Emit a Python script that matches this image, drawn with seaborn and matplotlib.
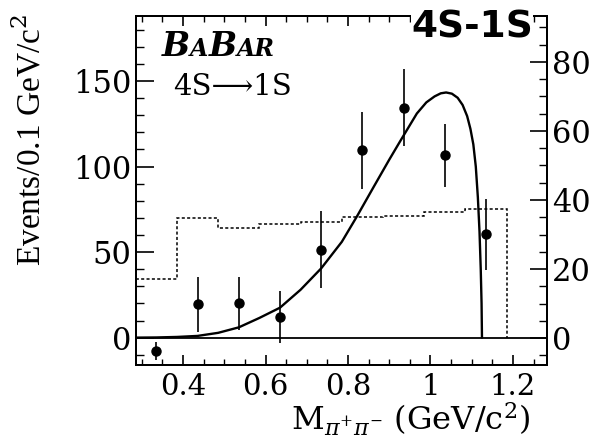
# babar_4s_1s.py - M(pi+pi-) spectrum, 4S -> 1S
import numpy as np
import matplotlib
matplotlib.use("Agg")
import matplotlib.pyplot as plt
import seaborn as sns
from matplotlib.ticker import MultipleLocator
from matplotlib.offsetbox import TextArea, HPacker, AnchoredOffsetbox

# data
bin_edges = [0.285, 0.385, 0.485, 0.585, 0.685, 0.785, 0.885, 0.985, 1.085, 1.185]
point_x = [0.335, 0.435, 0.535, 0.635, 0.735, 0.835, 0.935, 1.035, 1.135]
point_y = [-7.8, 19.5, 20.0, 12.1, 51.5, 109.5, 134.5, 106.5, 60.4]
point_err = [5.4, 16.1, 15.4, 15.4, 22.7, 22.5, 22.5, 18.5, 20.6]
# dotted histogram, right-hand scale
hist_counts = [17.0, 34.9, 31.8, 33.0, 33.7, 35.2, 35.5, 36.4, 37.3]
# fit curve
curve_x = [0.285, 0.335, 0.385, 0.435, 0.485, 0.535, 0.585, 0.635, 0.685, 0.735,
           0.785, 0.822, 0.862, 0.900, 0.927, 0.967, 0.990, 1.010, 1.025, 1.038,
           1.052, 1.066, 1.078, 1.089, 1.097, 1.104, 1.110, 1.115, 1.119, 1.122,
           1.124, 1.125]
curve_y = [0, 0.1, 0.4, 1.0, 2.8, 6.0, 11.5, 17.5, 28, 40.5,
           56, 71, 88, 104, 115, 131, 137.5, 141, 142.8, 143.3,
           142.6, 140.2, 136, 129.5, 122, 113, 100, 82, 62, 40,
           20, 0]

sns.set_theme(style="ticks")
plt.rcParams['font.family'] = ['DejaVu Serif']
plt.rcParams['mathtext.fontset'] = 'dejavuserif'
plt.rcParams['axes.linewidth'] = 1.4
for key in ['text.color', 'axes.labelcolor', 'axes.edgecolor', 'xtick.color', 'ytick.color']:
    plt.rcParams[key] = 'black'

W, H = 613, 437
fig = plt.figure(figsize=(W / 100, H / 100), dpi=100)
ax = fig.add_axes([135.7 / W, (H - 365) / H, 411 / W, 349 / H])
ax2 = ax.twinx()

# fit line
sns.lineplot(x=curve_x, y=curve_y, ax=ax, color="black", linewidth=1.7, sort=False)
# data points
ax.errorbar(point_x, point_y, yerr=point_err, fmt="o", color="black",
            markersize=6.5, elinewidth=1.2, capsize=0)
ax.axhline(0, color="black", linewidth=1.3)

# background histogram (right scale)
ax2.stairs(hist_counts, bin_edges, baseline=0, color="black",
           linewidth=1.1, linestyle=(0, (2, 1.5)))

ax.set_xlim(0.285, 1.282)
ax.set_ylim(-16, 188)
ax2.set_ylim(-7.8, 93.3)

ax.xaxis.set_major_locator(MultipleLocator(0.2))
ax.xaxis.set_minor_locator(MultipleLocator(0.05))
ax.yaxis.set_major_locator(MultipleLocator(50))
ax.yaxis.set_minor_locator(MultipleLocator(10))
ax2.yaxis.set_major_locator(MultipleLocator(20))
ax2.yaxis.set_minor_locator(MultipleLocator(5))
ax.set_xticks([0.4, 0.6, 0.8, 1.0, 1.2])
ax.set_xticklabels(["0.4", "0.6", "0.8", "1", "1.2"])

ax.tick_params(axis="x", which="both", direction="in", top=True, labelsize=21, pad=6)
ax.tick_params(axis="x", which="major", length=7, width=1.2)
ax.tick_params(axis="x", which="minor", length=4, width=1.0)
ax.tick_params(axis="y", which="both", direction="in", right=False, labelsize=22, pad=3)
ax.tick_params(axis="y", which="major", length=13, width=1.2)
ax.tick_params(axis="y", which="minor", length=6, width=1.0)
ax2.tick_params(axis="y", which="both", direction="in", labelsize=22, pad=4)
ax2.tick_params(axis="y", which="major", length=12, width=1.2)
ax2.tick_params(axis="y", which="minor", length=6, width=1.0)
ax.set_xlabel("")
ax.set_ylabel("")

# labels
fig.text(30 / W, 1 - 140 / H, "Events/0.1 GeV/c$^2$", rotation=90,
         ha="center", va="center", fontsize=24, family="Liberation Serif")
fig.text(411 / W, 1 - 431 / H, r"M$_{\pi^{+}\pi^{-}}$ (GeV/c$^{2}$)",
         ha="center", va="baseline", fontsize=23)

# BaBar logo in small caps
big = dict(size=24, weight="bold", style="italic", family="DejaVu Serif")
small = dict(size=17, weight="bold", style="italic", family="DejaVu Serif")
logo = HPacker(children=[TextArea("B", textprops=big), TextArea("A", textprops=small),
                         TextArea("B", textprops=big), TextArea("AR", textprops=small)],
               align="baseline", pad=0, sep=0)
ax.add_artist(AnchoredOffsetbox(loc="lower left", child=logo, pad=0, borderpad=0,
                                frameon=False, bbox_to_anchor=(162 / W, 1 - 63 / H),
                                bbox_transform=fig.transFigure))
fig.text(173 / W, 1 - 95 / H, "4S\u27f61S", ha="left", va="baseline", fontsize=21,
         family=["DejaVu Serif", "DejaVu Sans"])

t = fig.text(472 / W, 1 - 38 / H, "4S-1S", ha="center", va="baseline",
             fontsize=27, weight="bold", family="DejaVu Sans")
t.set_bbox(dict(facecolor="white", edgecolor="none", pad=0))

plt.savefig("out.png", dpi=100)
